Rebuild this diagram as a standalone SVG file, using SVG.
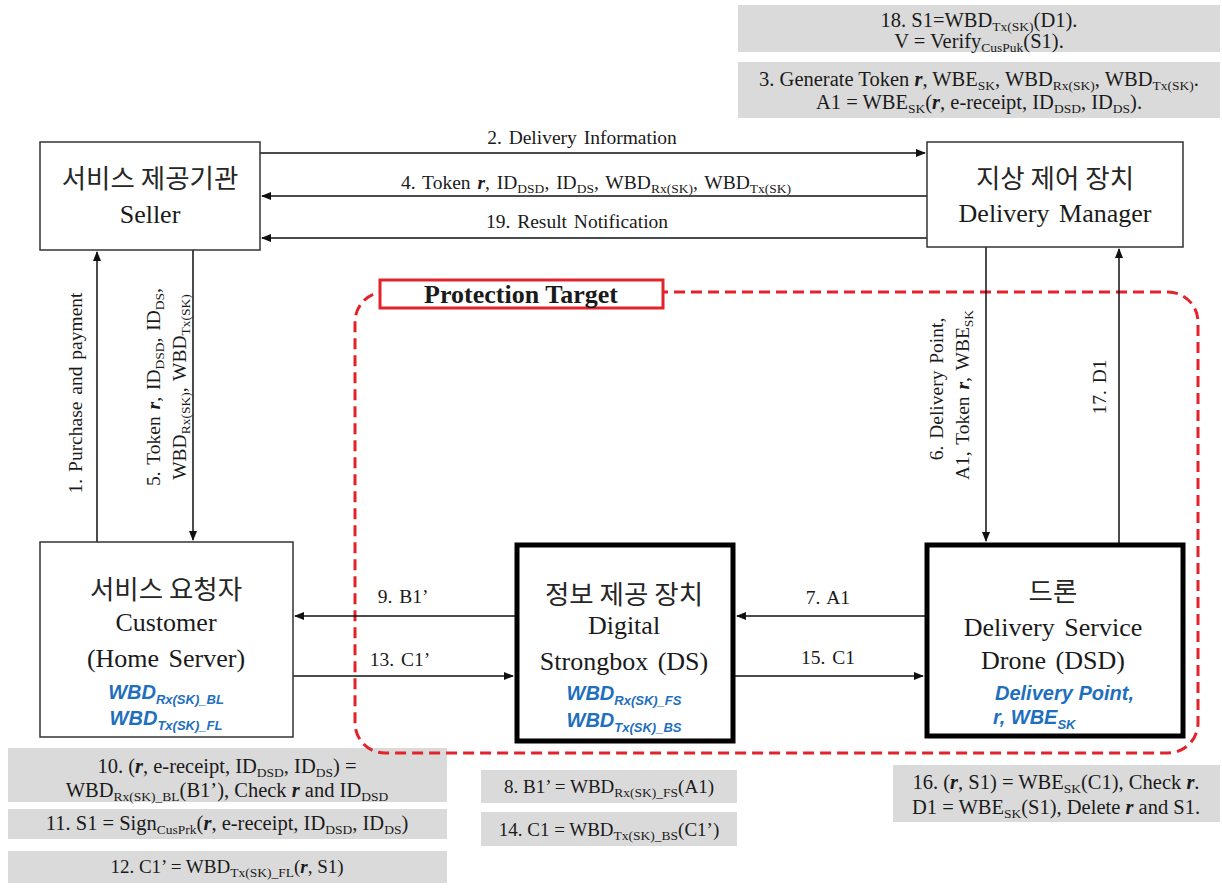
<svg xmlns="http://www.w3.org/2000/svg" width="1222" height="889" viewBox="0 0 1222 889">
<style>
.t{font-family:"Liberation Serif","Times New Roman",serif;fill:#1a1a1a}
.kr{font-family:"Noto Sans CJK KR","Noto Sans",sans-serif;font-size:26.5px;fill:#262626}
.nd{font-size:26px;word-spacing:3px}
.lb{font-size:19.5px;word-spacing:2px}
.gx{font-size:20.5px}
.gx2{font-size:19px}
.s{font-size:13.5px;baseline-shift:-4px;word-spacing:0}
.bl{font-family:"Liberation Sans",Arial,sans-serif;font-weight:bold;font-style:italic;fill:#1f6fbf;font-size:20px}
.bs{font-size:13px;baseline-shift:-5px}
.r{font-weight:bold;font-style:italic}
.box{fill:#fff;stroke:#333;stroke-width:1.5}
.thick{fill:#fff;stroke:#000;stroke-width:5}
.gray{fill:#dadada}
.ln{stroke:#111;stroke-width:1.5;fill:none}
</style>
<defs>
<marker id="ah" markerWidth="10" markerHeight="10" refX="9" refY="5" orient="auto" markerUnits="userSpaceOnUse">
<path d="M0,1 L10,5 L0,9 Z" fill="#111"/>
</marker>
</defs>
<rect width="1222" height="889" fill="#fff"/>

<!-- gray note boxes -->
<g id="note18">
<rect class="gray" x="738" y="5" width="482" height="47"/>
<text class="t gx" x="979" y="27" text-anchor="middle">18. S1=WBD<tspan class="s">Tx(SK)</tspan>(D1).</text>
<text class="t gx" x="979" y="48" text-anchor="middle">V = Verify<tspan class="s">CusPuk</tspan>(S1).</text>
</g>
<g id="note3">
<rect class="gray" x="738" y="62" width="482" height="56"/>
<text class="t gx" x="979" y="86" text-anchor="middle">3. Generate  Token <tspan class="r">r</tspan>, WBE<tspan class="s">SK</tspan>,  WBD<tspan class="s">Rx(SK)</tspan>, WBD<tspan class="s">Tx(SK)</tspan>.</text>
<text class="t gx" x="979" y="109" text-anchor="middle">A1 = WBE<tspan class="s">SK</tspan>(<tspan class="r">r</tspan>,  e-receipt, ID<tspan class="s">DSD</tspan>, ID<tspan class="s">DS</tspan>).</text>
</g>
<g id="note10">
<rect class="gray" x="8" y="748" width="439" height="54"/>
<text class="t gx" x="227" y="773" text-anchor="middle">10. (<tspan class="r">r</tspan>, e-receipt,  ID<tspan class="s">DSD</tspan>, ID<tspan class="s">DS</tspan>) =</text>
<text class="t gx" x="227" y="797" text-anchor="middle">WBD<tspan class="s">Rx(SK)_BL</tspan>(B1’), Check <tspan class="r">r</tspan> and ID<tspan class="s">DSD</tspan></text>
</g>
<g id="note11">
<rect class="gray" x="8" y="809" width="439" height="30"/>
<text class="t gx" x="227" y="830" text-anchor="middle">11. S1 = Sign<tspan class="s">CusPrk</tspan>(<tspan class="r">r</tspan>,  e-receipt, ID<tspan class="s">DSD</tspan>, ID<tspan class="s">DS</tspan>)</text>
</g>
<g id="note12">
<rect class="gray" x="8" y="851" width="439" height="32"/>
<text class="t gx2" x="227" y="873" text-anchor="middle">12. C1’ = WBD<tspan class="s">Tx(SK)_FL</tspan>(<tspan class="r">r</tspan>, S1)</text>
</g>
<g id="note8">
<rect class="gray" x="481" y="770" width="256" height="33"/>
<text class="t gx2" x="609" y="793" text-anchor="middle">8. B1’ = WBD<tspan class="s">Rx(SK)_FS</tspan>(A1)</text>
</g>
<g id="note14">
<rect class="gray" x="481" y="812" width="256" height="34"/>
<text class="t gx2" x="609" y="836" text-anchor="middle">14. C1 = WBD<tspan class="s">Tx(SK)_BS</tspan>(C1’)</text>
</g>
<g id="note16">
<rect class="gray" x="893" y="765" width="327" height="57"/>
<text class="t gx" x="1056" y="789" text-anchor="middle">16. (<tspan class="r">r</tspan>, S1) = WBE<tspan class="s">SK</tspan>(C1),  Check <tspan class="r">r</tspan>.</text>
<text class="t gx" x="1056" y="814" text-anchor="middle">D1 = WBE<tspan class="s">SK</tspan>(S1),  Delete  <tspan class="r">r</tspan> and S1.</text>
</g>

<!-- protection target -->
<g id="protection-target">
<rect x="355" y="292" width="843" height="461" rx="30" fill="none" stroke="#e3232b" stroke-width="3" stroke-dasharray="11 6"/>
<rect x="380" y="280" width="283" height="28" fill="#fff" stroke="#e3232b" stroke-width="3"/>
<text class="t" x="521" y="303" text-anchor="middle" font-size="26" font-weight="bold">Protection Target</text>
</g>

<!-- connectors -->
<g id="connectors">
<line class="ln" x1="260" y1="153" x2="925" y2="153" marker-end="url(#ah)"/>
<line class="ln" x1="927" y1="196" x2="262" y2="196" marker-end="url(#ah)"/>
<line class="ln" x1="927" y1="238" x2="262" y2="238" marker-end="url(#ah)"/>
<line class="ln" x1="97" y1="542" x2="97" y2="252" marker-end="url(#ah)"/>
<line class="ln" x1="193" y1="250" x2="193" y2="540" marker-end="url(#ah)"/>
<line class="ln" x1="986" y1="247" x2="986" y2="541" marker-end="url(#ah)"/>
<line class="ln" x1="1119" y1="543" x2="1119" y2="249" marker-end="url(#ah)"/>
<line class="ln" x1="515" y1="616" x2="295" y2="616" marker-end="url(#ah)"/>
<line class="ln" x1="293" y1="676" x2="513" y2="676" marker-end="url(#ah)"/>
<line class="ln" x1="925" y1="616" x2="737" y2="616" marker-end="url(#ah)"/>
<line class="ln" x1="735" y1="676" x2="923" y2="676" marker-end="url(#ah)"/>

<text class="t lb" x="582" y="144" text-anchor="middle">2. Delivery  Information</text>
<text class="t lb" x="596" y="189" text-anchor="middle">4. Token <tspan class="r">r</tspan>, ID<tspan class="s">DSD</tspan>, ID<tspan class="s">DS</tspan>, WBD<tspan class="s">Rx(SK)</tspan>, WBD<tspan class="s">Tx(SK)</tspan></text>
<text class="t lb" x="577" y="228" text-anchor="middle">19. Result  Notification</text>
<text class="t lb" transform="translate(82,393) rotate(-90)" text-anchor="middle">1. Purchase  and  payment</text>
<text class="t lb" transform="translate(160,387) rotate(-90)" text-anchor="middle">5. Token <tspan class="r">r</tspan>, ID<tspan class="s">DSD</tspan>, ID<tspan class="s">DS</tspan>,</text>
<text class="t lb" transform="translate(186,387) rotate(-90)" text-anchor="middle">WBD<tspan class="s">Rx(SK)</tspan>,  WBD<tspan class="s">Tx(SK)</tspan></text>
<text class="t lb" transform="translate(943,389) rotate(-90)" text-anchor="middle">6. Delivery   Point,</text>
<text class="t lb" transform="translate(969,395) rotate(-90)" text-anchor="middle">A1, Token <tspan class="r">r</tspan>,  WBE<tspan class="s">SK</tspan></text>
<text class="t lb" transform="translate(1106,387) rotate(-90)" text-anchor="middle">17. D1</text>
<text class="t lb" x="403" y="603" text-anchor="middle">9. B1’</text>
<text class="t lb" x="400" y="666" text-anchor="middle">13. C1’</text>
<text class="t lb" x="828" y="604" text-anchor="middle">7. A1</text>
<text class="t lb" x="828" y="664" text-anchor="middle">15. C1</text>
</g>

<!-- nodes -->
<g id="seller">
<rect class="box" x="40" y="142" width="220" height="108"/>
<text class="kr" x="150" y="188" text-anchor="middle">서비스 제공기관</text>
<text class="t nd" x="150" y="223" text-anchor="middle">Seller</text>
</g>
<g id="delivery-manager">
<rect class="box" x="927" y="142" width="256" height="105"/>
<text class="kr" x="1055" y="188" text-anchor="middle">지상 제어 장치</text>
<text class="t nd" x="1055" y="222" text-anchor="middle">Delivery  Manager</text>
</g>
<g id="customer">
<rect class="box" x="40" y="542" width="253" height="195"/>
<text class="kr" x="166" y="599" text-anchor="middle">서비스 요청자</text>
<text class="t nd" x="166" y="631" text-anchor="middle">Customer</text>
<text class="t nd" x="166" y="667" text-anchor="middle">(Home Server)</text>
<text class="bl" x="166" y="699" text-anchor="middle">WBD<tspan class="bs">Rx(SK)_BL</tspan></text>
<text class="bl" x="166" y="725" text-anchor="middle">WBD<tspan class="bs">Tx(SK)_FL</tspan></text>
</g>
<g id="digital-strongbox">
<rect class="thick" x="517" y="545" width="216" height="196"/>
<text class="kr" x="624" y="604" text-anchor="middle">정보 제공 장치</text>
<text class="t nd" x="624" y="634" text-anchor="middle">Digital</text>
<text class="t nd" x="624" y="670" text-anchor="middle">Strongbox (DS)</text>
<text class="bl" x="624" y="700" text-anchor="middle">WBD<tspan class="bs">Rx(SK)_FS</tspan></text>
<text class="bl" x="624" y="727" text-anchor="middle">WBD<tspan class="bs">Tx(SK)_BS</tspan></text>
</g>
<g id="drone">
<rect class="thick" x="927" y="545" width="256" height="191"/>
<text class="kr" x="1053" y="601" text-anchor="middle">드론</text>
<text class="t nd" x="1053" y="636" text-anchor="middle">Delivery  Service</text>
<text class="t nd" x="1053" y="669" text-anchor="middle">Drone (DSD)</text>
<text class="bl" x="995" y="700">Delivery Point,</text>
<text class="bl" x="993" y="724">r, WBE<tspan class="bs">SK</tspan></text>
</g>
</svg>
